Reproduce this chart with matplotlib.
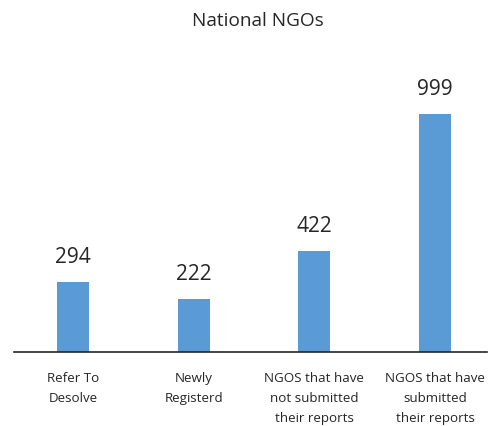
import matplotlib
matplotlib.use("Agg")
import matplotlib.pyplot as plt

categories = ["Refer To\nDesolve", "Newly\nRegisterd", "NGOS that have\nnot submitted\ntheir reports",
              "NGOS that have\nsubmitted\ntheir reports"]
values = [294, 222, 422, 999]
title = "National NGOs"

plt.rcParams['font.family'] = ['Open Sans', 'DejaVu Sans']

W, H = 491, 427
fig = plt.figure(figsize=(W / 100, H / 100), dpi=100)
px_per_unit = 0.2382
ymax = 1100
base = 353
left, right = 14, 487
ax_h = ymax * px_per_unit
ax = fig.add_axes([left / W, (H - base) / H, (right - left) / W, ax_h / H])

x = list(range(len(values)))
ax.bar(x, values, width=0.265, color="#5B9BD5")
ax.set_xlim(-0.489, 3.431)
ax.set_ylim(0, ymax)
for s in ["top", "right", "left"]:
    ax.spines[s].set_visible(False)
ax.spines["bottom"].set_color("#262626")
ax.spines["bottom"].set_linewidth(1.2)
ax.set_yticks([])
ax.set_xticks(x)
ax.set_xticklabels(categories, fontsize=9.6, color="#262626", linespacing=1.7)
ax.tick_params(axis="x", length=0, pad=14)

for xi, v in zip(x, values):
    ax.annotate(str(v), (xi, v), xytext=(0, 11), textcoords="offset points",
                ha="center", va="bottom", fontsize=15, color="#262626")

fig.text(258 / W, 1 - 21 / H, title, ha="center", va="center", fontsize=13.7, color="#262626")

fig.savefig("out.png", dpi=100)
